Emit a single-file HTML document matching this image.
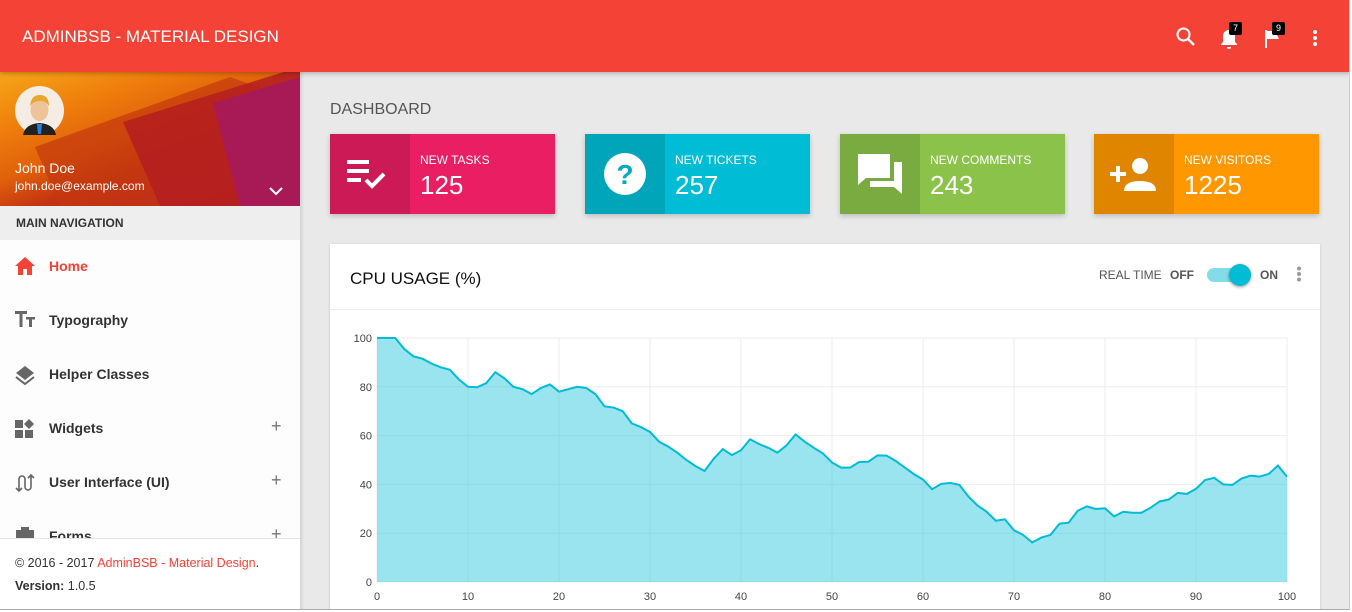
<!DOCTYPE html>
<html><head><meta charset="utf-8">
<style>
*{box-sizing:border-box;margin:0;padding:0}
body{width:1352px;height:612px;overflow:hidden;background:#fff;font-family:"Liberation Sans",sans-serif;position:relative}
#page{position:absolute;left:0;top:0;width:1350px;height:610px;background:#e9e9e9;overflow:hidden;border-right:1px solid #ccc;border-bottom:1px solid #aaa}
#topbar{position:absolute;left:0;top:0;width:1350px;height:72px;background:#f44336;box-shadow:0 1px 5px rgba(0,0,0,.3);z-index:5}
#brand{position:absolute;left:22px;top:27px;color:#fff;font-size:17px}
.ticon{position:absolute;top:26px;width:22px;height:22px}
.badge{position:absolute;background:#000;color:#fff;font-size:9px;width:13px;height:13px;border-radius:2px;text-align:center;line-height:13px}
#sidebar{position:absolute;left:0;top:72px;width:300px;height:540px;background:#fdfdfd;box-shadow:1px 0 4px rgba(0,0,0,.15)}
#user{position:absolute;left:0;top:0;width:300px;height:134px;overflow:hidden;background:linear-gradient(160deg,#f6a619 0%,#ef7d0c 25%,#e0600b 45%,#c43512 60%,#b8202a 75%,#a91a58 100%)}
.navhdr{position:absolute;top:134px;left:0;width:300px;height:34px;background:#eee;font-size:12px;font-weight:bold;color:#333;padding:10px 16px}
.item{position:absolute;left:0;width:300px;height:54px}
.item .lbl{position:absolute;left:49px;top:18px;font-size:14px;font-weight:bold;color:#333}
.item .plus{position:absolute;left:271px;top:14px;font-size:18px;color:#777}
.item svg{position:absolute;left:15px;top:17px}
#footer{position:absolute;left:0;top:466px;width:300px;height:74px;background:#fff;border-top:1px solid #e5e5e5;font-size:12.5px;color:#333;padding:17px 15px}
#footer a{color:#f44336;text-decoration:none}
.box{position:absolute;top:134px;width:225px;height:80px;box-shadow:0 2px 5px rgba(0,0,0,.2);color:#fff}
.box .ic{position:absolute;left:0;top:0;width:80px;height:80px;background:rgba(0,0,0,.12)}
.box .t{position:absolute;left:90px;top:19px;font-size:12px}
.box .n{position:absolute;left:90px;top:36px;font-size:26px}
#card{position:absolute;left:330px;top:244px;width:990px;height:380px;background:#fff;box-shadow:0 1px 3px rgba(0,0,0,.15)}
#cardhdr{position:absolute;left:0;top:0;width:990px;height:66px;border-bottom:1px solid #eee}
</style></head><body>
<div id="page">
<div id="topbar">
 <div id="brand">ADMINBSB - MATERIAL DESIGN</div>
 <svg class="ticon" style="left:1175px" viewBox="0 0 22 22"><circle cx="8.5" cy="8.5" r="6" fill="none" stroke="#fff" stroke-width="2"/><line x1="13" y1="13" x2="19" y2="19" stroke="#fff" stroke-width="2.4"/></svg>
 <svg class="ticon" style="left:1218px;top:28px" viewBox="0 0 22 22"><path d="M11 2c-3.5 0-6 2.5-6 6v6l-2 2v1h16v-1l-2-2V8c0-3.5-2.5-6-6-6z M9 19h4a2 2 0 0 1-4 0z" fill="#fff"/></svg>
 <div class="badge" style="left:1229px;top:22px">7</div>
 <svg class="ticon" style="left:1262px;top:28px" viewBox="0 0 22 22"><path d="M3 2h2v18H3z M5 3h12l-2 4 2 4H5z" fill="#fff"/></svg>
 <div class="badge" style="left:1272px;top:22px">9</div>
 <svg class="ticon" style="left:1304px;top:28px" viewBox="0 0 22 22"><circle cx="11" cy="4" r="2" fill="#fff"/><circle cx="11" cy="10" r="2" fill="#fff"/><circle cx="11" cy="16" r="2" fill="#fff"/></svg>
</div>

<div id="sidebar">
 <div id="user">
  <svg width="300" height="134" style="position:absolute;left:0;top:0"><polygon points="35,75 230,5 300,30 300,134 60,134" fill="#c3390e" opacity=".7"/><polygon points="123,50 300,-5 300,134 160,134" fill="#b41d20" opacity=".85"/><polygon points="213,31 300,5 300,134 240,134" fill="#a81a55"/></svg>
  <svg width="49" height="49" style="position:absolute;left:15px;top:14px"><circle cx="24.5" cy="24.5" r="24.5" fill="#f5ede4"/><path d="M8 49 Q10 38 24.5 37 Q39 38 41 49z" fill="#222"/><path d="M22 38h5l-1 10h-3z" fill="#2a7fd8"/><ellipse cx="24.5" cy="24" rx="9" ry="11" fill="#eec39a"/><path d="M15 20 Q16 9 25 9 Q34 9 34 20 Q30 14 24 15 Q19 15 15 20z" fill="#e8a830"/></svg>
  <div style="position:absolute;left:15px;top:88px;color:#fff;font-size:14px">John Doe</div>
  <div style="position:absolute;left:15px;top:107px;color:#fff;font-size:12px">john.doe@example.com</div>
  <svg width="14" height="10" style="position:absolute;left:269px;top:114px"><path d="M1 2l6 6 6-6" stroke="#fff" stroke-width="2" fill="none"/></svg>
 </div>
 <div class="navhdr">MAIN NAVIGATION</div>
 <div class="item" style="top:168px"><svg width="20" height="18" viewBox="0 0 20 18"><path d="M10 0L0 9h3v9h5v-6h4v6h5V9h3z" fill="#f44336"/></svg><span class="lbl" style="color:#f44336">Home</span></div>
 <div class="item" style="top:222px"><svg width="20" height="16" viewBox="0 0 20 16"><path d="M0 0h12v3H7.5v13h-3V3H0z M11 6h9v2.5h-3V16h-3V8.5h-3z" fill="#666"/></svg><span class="lbl">Typography</span></div>
 <div class="item" style="top:276px"><svg width="20" height="20" viewBox="0 0 20 20"><path d="M10 1L1 8l9 7 9-7z" fill="#666"/><path d="M1 12l9 7 9-7" stroke="#666" stroke-width="2" fill="none"/></svg><span class="lbl">Helper Classes</span></div>
 <div class="item" style="top:330px"><svg width="20" height="20" viewBox="0 0 20 20"><rect x="0" y="1" width="8" height="8" fill="#666"/><rect x="0" y="11" width="8" height="8" fill="#666"/><rect x="10" y="11" width="8" height="8" fill="#666"/><path d="M14 0l5 5-5 5-5-5z" fill="#666"/></svg><span class="lbl">Widgets</span><span class="plus">+</span></div>
 <div class="item" style="top:384px"><svg width="20" height="20" viewBox="0 0 20 20"><path d="M4 18V6a3 3 0 0 1 6 0v8a3 3 0 0 0 6 0V2 M1 15l3 3 3-3 M13 5l3-3 3 3" stroke="#666" stroke-width="1.6" fill="none"/></svg><span class="lbl">User Interface (UI)</span><span class="plus">+</span></div>
 <div class="item" style="top:438px"><svg width="20" height="20" viewBox="0 0 20 20"><rect x="1" y="3" width="18" height="17" fill="#666"/><rect x="6" y="0" width="8" height="5" fill="#666"/></svg><span class="lbl">Forms</span><span class="plus">+</span></div>
 <div id="footer">
  <div>© 2016 - 2017 <a>AdminBSB - Material Design</a>.</div>
  <div style="margin-top:9px"><b>Version: </b>1.0.5</div>
 </div>
</div>

<div style="position:absolute;left:330px;top:101px;font-size:16px;color:#555">DASHBOARD</div>

<div class="box" style="left:330px;background:#e91e63"><div class="ic"><svg width="48" height="40" style="position:absolute;left:17px;top:22px"><rect x="0" y="4" width="22" height="4" fill="#fff"/><rect x="0" y="13" width="22" height="4" fill="#fff"/><rect x="0" y="22" width="14" height="4" fill="#fff"/><path d="M19 24l6 6 12-12" stroke="#fff" stroke-width="4" fill="none"/></svg></div><div class="t">NEW TASKS</div><div class="n">125</div></div>
<div class="box" style="left:585px;background:#00bcd4"><div class="ic"><svg width="44" height="44" style="position:absolute;left:18px;top:18px"><circle cx="22" cy="22" r="21" fill="#fff"/><text x="22" y="32" text-anchor="middle" font-size="28" font-weight="bold" fill="#00acc1" font-family="Liberation Sans">?</text></svg></div><div class="t">NEW TICKETS</div><div class="n">257</div></div>
<div class="box" style="left:840px;background:#8bc34a"><div class="ic"><svg width="46" height="40" style="position:absolute;left:18px;top:20px"><path d="M0 0h32v24H8l-8 7z" fill="#fff"/><path d="M36 8h8v32l-8-7H12v-6h24z" fill="#fff"/></svg></div><div class="t">NEW COMMENTS</div><div class="n">243</div></div>
<div class="box" style="left:1094px;background:#ff9800"><div class="ic"><svg width="50" height="40" style="position:absolute;left:16px;top:22px"><path d="M6 10h4v6h6v4h-6v6H6v-6H0v-4h6z" fill="#fff"/><circle cx="30" cy="10" r="8" fill="#fff"/><path d="M14 35q0-10 16-10t16 10z" fill="#fff"/></svg></div><div class="t">NEW VISITORS</div><div class="n">1225</div></div>

<div id="card">
 <div id="cardhdr">
  <div style="position:absolute;left:20px;top:25px;font-size:17px;color:#111">CPU USAGE (%)</div>
  <div style="position:absolute;left:769px;top:24px;font-size:12px;color:#555">REAL TIME</div>
  <div style="position:absolute;left:840px;top:24px;font-size:12px;color:#555;font-weight:bold">OFF</div>
  <div style="position:absolute;left:877px;top:24px;width:42px;height:14px;border-radius:7px;background:#84dce8"></div>
  <div style="position:absolute;left:899px;top:20px;width:22px;height:22px;border-radius:50%;background:#00bcd4;box-shadow:0 1px 3px rgba(0,0,0,.4)"></div>
  <div style="position:absolute;left:930px;top:24px;font-size:12px;color:#555;font-weight:bold">ON</div>
  <svg width="6" height="16" style="position:absolute;left:966px;top:22px"><circle cx="3" cy="2.5" r="2" fill="#999"/><circle cx="3" cy="8" r="2" fill="#999"/><circle cx="3" cy="13.5" r="2" fill="#999"/></svg>
 </div>
</div>
<svg id="chart" width="1000" height="300" style="position:absolute;left:330px;top:312px"></svg>
</div>
<script>
const xTicks=[0,10,20,30,40,50,60,70,80,90,100];
const yTicks=[0,20,40,60,80,100];
const cpuValues=[100,100,100,95.5,92.5,91.5,89.5,88,87,83,80,79.8,81.5,86,83.5,80,79,77,79.5,81,78,79,80,79.5,77,72,71.5,70,65,63.5,61.5,57.5,55.5,53,50,47.5,45.5,50.5,54.5,52,54,58.5,56.5,55,53,56,60.5,57.5,55,52.7,49,46.9,46.9,49.2,49.3,51.9,51.8,49.6,46.9,44.2,42,38,40.2,40.6,39.8,35,31.3,28.8,25.1,25.7,21.2,19.3,16.2,18.2,19.3,23.9,24.3,29.2,31,29.9,30.2,26.9,28.8,28.4,28.4,30.4,33,33.8,36.5,36.1,38.2,41.8,42.7,40,39.8,42.4,43.6,43.2,44.3,47.7,43.2];
const svg=document.getElementById('chart');const NS='http://www.w3.org/2000/svg';
const X0=47,X1=957,Y0=270,Y1=26;
const sx=v=>X0+(v-0)/100*(X1-X0);
const sy=v=>Y0-(v-0)/100*(Y0-Y1);
function mk(t,a,p){const e=document.createElementNS(NS,t);for(const k in a)e.setAttribute(k,a[k]);(p||svg).appendChild(e);return e;}
xTicks.forEach(t=>{const l=mk('line',{x1:sx(t),x2:sx(t),y1:Y1,y2:Y0,stroke:'#eee'});


const tx=mk('text',{x:sx(t),y:Y0+18,'text-anchor':'middle','font-size':11,fill:'#444','font-family':'Liberation Sans'});tx.textContent=t;

});
yTicks.forEach(t=>{const l=mk('line',{x1:X0,x2:X1,y1:sy(t),y2:sy(t),stroke:'#eee'});


const tx=mk('text',{x:X0-5,y:sy(t)+4,'text-anchor':'end','font-size':11,fill:'#444','font-family':'Liberation Sans'});tx.textContent=t;

});
const pts=cpuValues.map((v,i)=>sx(i)+','+sy(v));
const area=mk('polygon',{points:sx(0)+','+sy(0)+' '+pts.join(' ')+' '+sx(cpuValues.length-1)+','+sy(0),fill:'rgba(0,188,212,0.4)'});


const line=mk('polyline',{points:pts.join(' '),fill:'none',stroke:'#00bcd4','stroke-width':2});


</script>
</body></html>
